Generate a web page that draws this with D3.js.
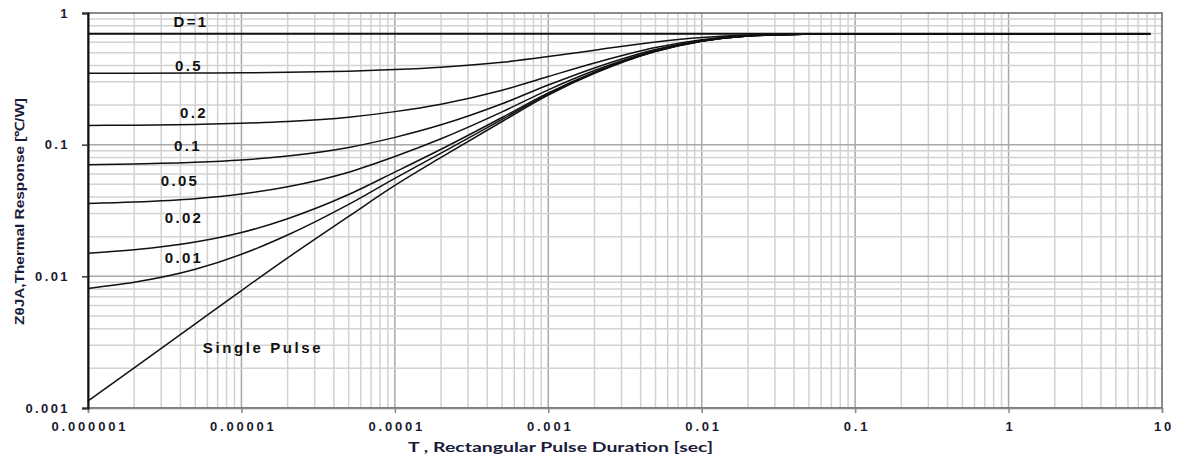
<!DOCTYPE html>
<html>
<head>
<meta charset="utf-8">
<script src="https://cdn.jsdelivr.net/npm/d3@7"></script>
<style>
  body { margin: 0; background: #fff; }
  svg text { font-family: "Liberation Sans", Arial, sans-serif; }
</style>
</head>
<body>
<div id="chart"></div>
<script>
// pulse duration [sec]
const pulseTimes = [1e-6, 2e-6, 5e-6, 1e-5, 2e-5, 5e-5, 1e-4, 2e-4, 5e-4, 1e-3, 2e-3, 5e-3, 1e-2, 2e-2, 5e-2, 0.1, 1, 8.4];

// thermal response [C/W]
const dutyOne    = [0.695, 0.695, 0.695, 0.695, 0.695, 0.695, 0.695, 0.695, 0.695, 0.695, 0.695, 0.695, 0.695, 0.695, 0.695, 0.695, 0.695, 0.695];
const duty050    = [0.348, 0.3485, 0.3497, 0.3514, 0.3544, 0.3618, 0.372, 0.3875, 0.4225, 0.4665, 0.5215, 0.6025, 0.6525, 0.6815, 0.6925, 0.695, 0.695, 0.695];
const duty020    = [0.1399, 0.1406, 0.1425, 0.1452, 0.150, 0.1618, 0.1782, 0.203, 0.259, 0.3294, 0.4174, 0.547, 0.627, 0.6734, 0.691, 0.695, 0.695, 0.695];
const duty010    = [0.0705, 0.0713, 0.0734, 0.0765, 0.0819, 0.0952, 0.1136, 0.1415, 0.2045, 0.2837, 0.3827, 0.5285, 0.6185, 0.6707, 0.6905, 0.695, 0.695, 0.695];
const duty005    = [0.0358, 0.0367, 0.0389, 0.0422, 0.0479, 0.0618, 0.0813, 0.1108, 0.1773, 0.2609, 0.3654, 0.5193, 0.6143, 0.6694, 0.6903, 0.695, 0.695, 0.695];
const duty002    = [0.0150, 0.0159, 0.0182, 0.0215, 0.0274, 0.0418, 0.0619, 0.0923, 0.1609, 0.2471, 0.355, 0.5137, 0.6117, 0.6685, 0.6901, 0.695, 0.695, 0.695];
const duty001    = [0.0081, 0.0090, 0.0113, 0.0147, 0.0206, 0.0352, 0.0555, 0.0862, 0.1555, 0.2426, 0.3515, 0.5119, 0.6109, 0.6683, 0.690, 0.695, 0.695, 0.695];
const singlePulse = [0.00113, 0.00202, 0.00436, 0.0078, 0.0138, 0.0285, 0.049, 0.080, 0.150, 0.238, 0.348, 0.51, 0.61, 0.668, 0.69, 0.695, 0.695, 0.695];

const seriesLabels = ["D=1", "0.5", "0.2", "0.1", "0.05", "0.02", "0.01", "Single Pulse"];

const xTickValues = [1e-6, 1e-5, 1e-4, 1e-3, 1e-2, 0.1, 1, 10];
const xTickLabels = ["0.000001", "0.00001", "0.0001", "0.001", "0.01", "0.1", "1", "10"];
const yTickValues = [0.001, 0.01, 0.1, 1];
const yTickLabels = ["0.001", "0.01", "0.1", "1"];

const xTitle = "T , Rectangular Pulse Duration [sec]";
const yTitle = "ZθJA,Thermal Response [℃/W]";

const width = 1179, height = 457;
const margin = { top: 13, right: 17, bottom: 49, left: 88 };
const plotW = width - margin.left - margin.right;
const plotH = height - margin.top - margin.bottom;

const svg = d3.select("#chart").append("svg")
  .attr("width", width)
  .attr("height", height);

const g = svg.append("g")
  .attr("transform", "translate(" + margin.left + "," + margin.top + ")");

const x = d3.scaleLog().domain([1e-6, 10]).range([0, plotW]);
const y = d3.scaleLog().domain([0.001, 1]).range([plotH, 0]);

// minor + major grid values (1..9 in each decade)
const xGrid = [], yGrid = [];
for (let e = -6; e < 1; e++) for (let m = 1; m < 10; m++) xGrid.push(m * Math.pow(10, e));
for (let e = -3; e < 0; e++) for (let m = 1; m < 10; m++) yGrid.push(m * Math.pow(10, e));

const isDecade = v => Math.abs(Math.log10(v) - Math.round(Math.log10(v))) < 1e-9;

g.append("g").selectAll("line")
  .data(xGrid)
  .enter().append("line")
  .attr("x1", d => x(d)).attr("x2", d => x(d))
  .attr("y1", 0).attr("y2", plotH)
  .attr("stroke", d => isDecade(d) ? "#a8a8a8" : "#d2d2d2")
  .attr("stroke-width", 1.5);

g.append("g").selectAll("line")
  .data(yGrid)
  .enter().append("line")
  .attr("x1", 0).attr("x2", plotW)
  .attr("y1", d => y(d)).attr("y2", d => y(d))
  .attr("stroke", d => isDecade(d) ? "#a8a8a8" : "#d2d2d2")
  .attr("stroke-width", 1.5);

// frame
g.append("rect")
  .attr("x", 0).attr("y", 0)
  .attr("width", plotW).attr("height", plotH)
  .attr("fill", "none")
  .attr("stroke", "#666")
  .attr("stroke-width", 1.5);

// X axis
const xAxis = g.append("g")
  .attr("transform", "translate(0," + plotH + ")")
  .call(d3.axisBottom(x).tickValues(xTickValues)
    .tickFormat((d, i) => xTickLabels[i]).tickSize(5).tickPadding(9));
xAxis.select(".domain").attr("stroke", "#888").attr("stroke-width", 1.5);
xAxis.selectAll(".tick line").attr("stroke", "#888").attr("stroke-width", 1.5);
xAxis.selectAll("text")
  .attr("font-size", 13)
  .attr("font-weight", "bold")
  .attr("letter-spacing", 2.8)
  .attr("dx", 1.4)
  .attr("fill", "#1b1b2e");

// Y axis
const yAxis = g.append("g")
  .call(d3.axisLeft(y).tickValues(yTickValues)
    .tickFormat((d, i) => yTickLabels[i]).tickSize(6).tickPadding(12));
yAxis.select(".domain").attr("stroke", "#111").attr("stroke-width", 2);
yAxis.selectAll(".tick line").attr("stroke", "#333").attr("stroke-width", 1.5);
yAxis.selectAll("text")
  .attr("font-size", 13)
  .attr("font-weight", "bold")
  .attr("letter-spacing", 2.4)
  .attr("fill", "#1b1b2e");

// curves
const series = [dutyOne, duty050, duty020, duty010, duty005, duty002, duty001, singlePulse];
const line = d3.line()
  .x((d, i) => x(pulseTimes[i]))
  .y(d => y(d))
  .curve(d3.curveMonotoneX);

g.append("g").selectAll("path")
  .data(series)
  .enter().append("path")
  .attr("fill", "none")
  .attr("stroke", "#111")
  .attr("stroke-width", (d, i) => i === 0 ? 1.9 : 1.5)
  .attr("d", line);

// curve labels (pixel placement inside the plot)
const labelPos = [[103, 9], [101, 53], [106, 100], [100, 133], [92, 168], [96, 205], [96, 245], [175, 335]];
g.append("g").selectAll("text")
  .data(seriesLabels)
  .enter().append("text")
  .attr("x", (d, i) => labelPos[i][0])
  .attr("y", (d, i) => labelPos[i][1] + 5)
  .attr("text-anchor", "middle")
  .attr("font-size", 15)
  .attr("font-weight", "bold")
  .attr("letter-spacing", (d, i) => i === 7 ? 2.6 : 2.3)
  .attr("fill", "#111")
  .text(d => d);

// axis titles
svg.append("text")
  .attr("x", 408)
  .attr("y", 452)
  .attr("textLength", 305)
  .attr("lengthAdjust", "spacingAndGlyphs")
  .attr("font-size", 14)
  .attr("font-weight", "bold")
  .attr("fill", "#1b1b3a")
  .style("font-family", "Lato, 'Open Sans', sans-serif")
  .text(xTitle);

svg.append("text")
  .attr("transform", "translate(24,325) rotate(-90)")
  .attr("x", 0)
  .attr("y", 0)
  .attr("textLength", 227)
  .attr("lengthAdjust", "spacingAndGlyphs")
  .attr("font-size", 12.5)
  .attr("font-weight", "bold")
  .attr("fill", "#1b1b3a")
  .style("font-family", "'Liberation Sans Narrow', 'Liberation Sans', sans-serif")
  .text(yTitle);
</script>
</body>
</html>
